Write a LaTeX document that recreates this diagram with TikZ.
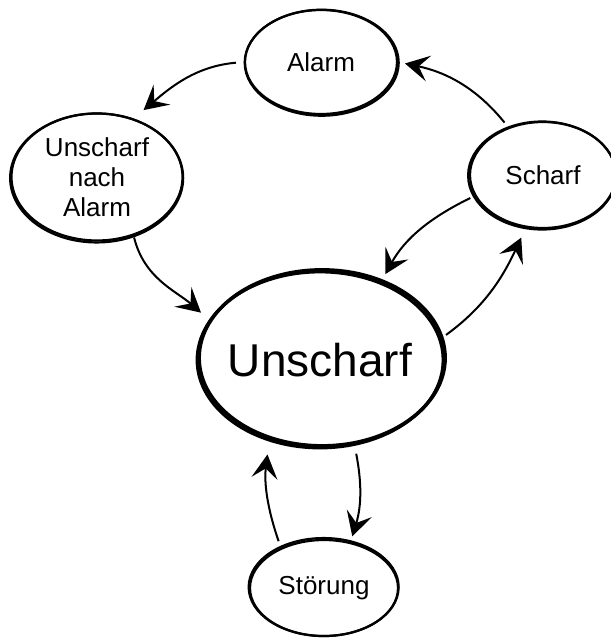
\documentclass[tikz,border=0pt]{standalone}
\usepackage{fontspec}
\setmainfont{Liberation Sans}
\usetikzlibrary{shapes.geometric,arrows.meta}
\begin{document}
\begin{tikzpicture}[x=0.5pt, y=0.5pt,
  state/.style={shape=ellipse, draw=black, line width=1.1pt, inner sep=0pt, align=center, font=\fontsize{13pt}{15pt}\selectfont},
  rim/.style={draw=black, line width=1.1pt},
  trans/.style={-{Stealth[length=12pt, width=13pt, inset=5pt]}, line width=1pt, draw=black}]
\useasboundingbox (0,0) rectangle (611,-638);
\node[state, minimum width=76pt, minimum height=52pt] (alarm) at (321,-62) {Alarm};
\node[state, minimum width=85.5pt, minimum height=63.5pt] (unach) at (97,-177) {Unscharf\\nach\\Alarm};
\node[state, minimum width=73pt, minimum height=53pt] (scharf) at (543,-175) {Scharf};
\node[state, line width=1.4pt, inner sep=-4pt, minimum width=123pt, minimum height=88pt, font=\fontsize{23pt}{27pt}\selectfont] (unscharf) at (320,-360) {Unscharf};
\node[state, minimum width=74pt, minimum height=48pt] (stoerung) at (324,-588) {Störung};
% uneven pen
\path [rim] ([shift={(-45:0.5pt)}]alarm.center) ellipse[x radius=38.5pt, y radius=26.5pt];
\path [rim] ([shift={(-110:0.5pt)}]unach.center) ellipse[x radius=43.25pt, y radius=32.25pt];
\path [rim] ([shift={(-150:0.5pt)}]scharf.center) ellipse[x radius=37pt, y radius=27pt];
\path [rim, line width=1.8pt] ([shift={(45:1.5pt)}]unscharf.center) ellipse[x radius=61.5pt, y radius=44pt];
\path [rim] ([shift={(110:0.5pt)}]stoerung.center) ellipse[x radius=37.5pt, y radius=24.5pt];
% transitions
\draw [trans, shorten <=4pt, shorten >=6.5pt] (alarm.180) to[out=185, in=40] (unach.58);
\draw [trans, shorten <=3pt, shorten >=3.5pt] (scharf.126) to[out=129, in=-12] (alarm.0);
\draw [trans, shorten <=1pt, shorten >=5.3pt] (unach.-58) to[out=-76, in=139] (unscharf.160);
\draw [trans, shorten <=2.4pt, shorten >=4.5pt] (scharf.197) to[out=206, in=61] (unscharf.52);
\draw [trans, shorten <=3.2pt, shorten >=5.5pt] (unscharf.10) to[out=36, in=245] (scharf.252);
\draw [trans, shorten <=3.5pt, shorten >=6.5pt] (stoerung.137) to[out=109, in=263] (unscharf.238);
\draw [trans, shorten <=4pt, shorten >=3pt] (unscharf.-68) to[out=281, in=73] (stoerung.60);
\end{tikzpicture}
\end{document}
